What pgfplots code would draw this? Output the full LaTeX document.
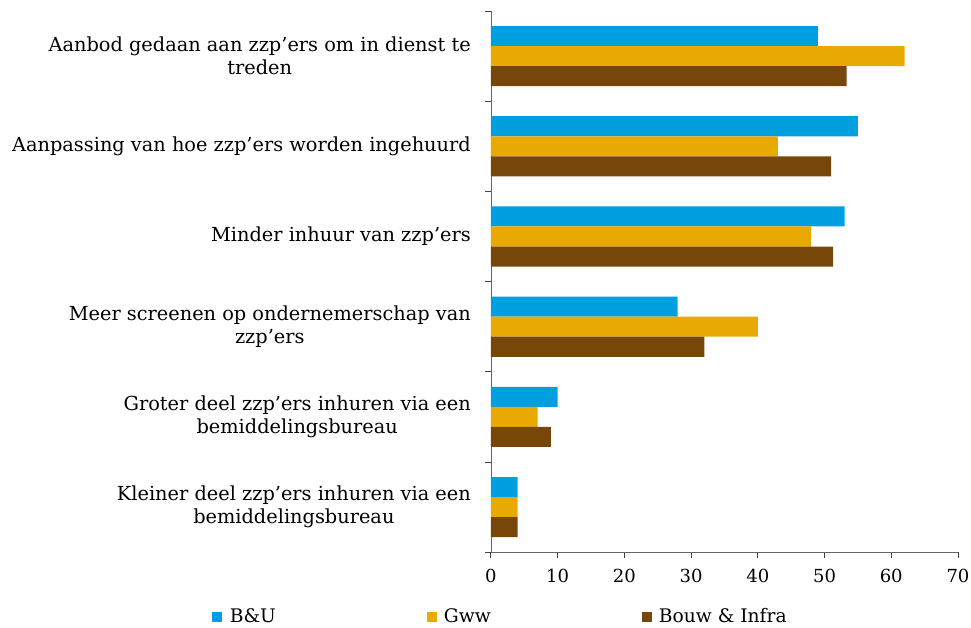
\documentclass[border=0pt]{standalone}
\usepackage{pgfplots}
\pgfplotsset{compat=1.18}
\usepackage{fontspec}
\setmainfont{DejaVu Serif}
\definecolor{cbu}{RGB}{0,159,223}
\definecolor{cgww}{RGB}{232,170,0}
\definecolor{cbouw}{RGB}{119,70,9}
\begin{document}
\begin{tikzpicture}
\useasboundingbox (-368pt,-56.25pt) rectangle (360pt,414pt);
\begin{axis}[
  at={(0,0)}, anchor=south west,
  scale only axis, width=350.25pt, height=405.75pt,
  xbar, bar width=0.2222,
  xmin=0, xmax=70, ymin=-0.5, ymax=5.5,
  xtick={0,10,...,70},
  ytick={0,...,5},
  yticklabels={{Kleiner deel zzp’ers inhuren via een\\bemiddelingsbureau},
               {Groter deel zzp’ers inhuren via een\\bemiddelingsbureau},
               {Meer screenen op ondernemerschap van\\zzp’ers},
               {Minder inhuur van zzp’ers},
               {Aanpassing van hoe zzp’ers worden ingehuurd},
               {Aanbod gedaan aan zzp’ers om in dienst te\\treden}},
  minor ytick={-0.5,0.5,...,5.5},
  every major y tick/.style={draw=none},
  axis x line*=bottom, axis y line*=left,
  axis line style={-, draw=black!60},
  tick style={draw=black!75, line width=0.6pt},
  tick align=outside,
  major tick length=4pt, minor tick length=4pt,
  yticklabel style={align=center, font=\fontsize{14.5}{17}\selectfont, xshift=-7.5pt},
  xticklabel style={font=\fontsize{13.5}{15}\selectfont, yshift=-5pt},
  /pgf/number format/assume math mode=true,
  legend columns=3,
  legend style={draw=none, font=\fontsize{14}{16}\selectfont,
    at={(axis description cs:-0.605,-0.119)}, anchor=west,
    /tikz/every even column/.append style={column sep=111pt}},
  legend image code/.code={\fill[#1] (0pt,-4pt) rectangle (7.5pt,3.5pt); \path (11pt,0pt);},
]
\addplot[fill=cbu, draw=none, bar shift=0.2222] coordinates {(4,0) (10,1) (28,2) (53,3) (55,4) (49,5)};
\addplot[fill=cgww, draw=none, bar shift=0] coordinates {(4,0) (7,1) (40,2) (48,3) (43,4) (62,5)};
\addplot[fill=cbouw, draw=none, bar shift=-0.2222] coordinates {(4,0) (9,1) (32,2) (51.3,3) (51,4) (53.3,5)};
\legend{B\&U, Gww, Bouw \& Infra}
\end{axis}
\end{tikzpicture}
\end{document}
